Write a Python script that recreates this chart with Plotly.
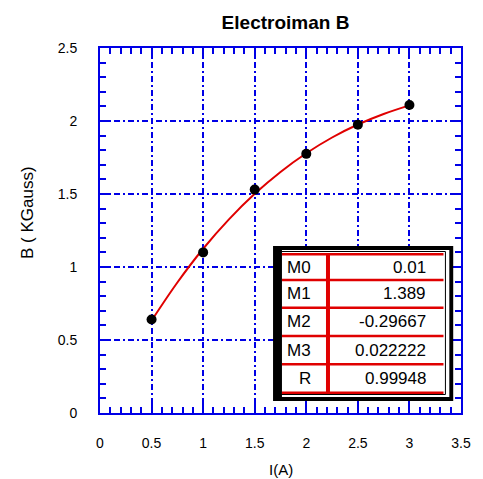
import plotly.graph_objects as go

# measured data
corriente = [0.5, 1.0, 1.5, 2.0, 2.5, 3.0]
campo_b = [0.64, 1.10, 1.53, 1.775, 1.975, 2.11]

# red fit curve
curva_x = [0.5, 0.75, 1.0, 1.25, 1.5, 1.75, 2.0, 2.25, 2.5, 2.75, 3.0]
curva_y = [0.633, 0.894, 1.125, 1.326, 1.501, 1.651, 1.779, 1.887, 1.976, 2.048, 2.107]

# fit results table
param_names = ["M0", "M1", "M2", "M3", "R"]
param_values = ["0.01", "1.389", "-0.29667", "0.022222", "0.99948"]

BLUE = "#0000e6"
RED = "#e00000"
FONT = "Liberation Sans, Arial, sans-serif"

# plot area in pixels (483x479 page)
L, R, T, B = 100, 471, 48, 413


def px(x, y):
    return (x - L) / (R - L), (B - y) / (B - T)


fig = go.Figure()
fig.add_trace(go.Scatter(x=curva_x, y=curva_y, mode="lines",
                         line=dict(color=RED, width=2, shape="spline"),
                         hoverinfo="skip"))
fig.add_trace(go.Scatter(x=corriente, y=campo_b, mode="markers",
                         marker=dict(color="black", size=10)))

axis = dict(showline=True, linecolor=BLUE, linewidth=2, mirror="ticks",
            ticks="inside", ticklen=10, tickwidth=2, tickcolor=BLUE,
            showgrid=True, gridcolor=BLUE, gridwidth=2,
            griddash="6px,3px,2px,3px", zeroline=False,
            tickfont=dict(family=FONT, size=14, color="black"),
            dtick=0.5, tick0=0,
            minor=dict(dtick=0.1, ticks="inside", ticklen=6, tickwidth=2,
                       tickcolor=BLUE, showgrid=False))

fig.update_xaxes(axis, range=[0, 3.5], ticklabelstandoff=16)
fig.update_yaxes(axis, range=[0, 2.5], ticklabelstandoff=18)

shapes = []
annotations = []


def rect(x0, y0, x1, y1, **kw):
    a0, b0 = px(x0, y0)
    a1, b1 = px(x1, y1)
    shapes.append(dict(type="rect", xref="paper", yref="paper",
                       x0=a0, y0=b0, x1=a1, y1=b1, **kw))


def line(x0, y0, x1, y1, color, width):
    a0, b0 = px(x0, y0)
    a1, b1 = px(x1, y1)
    shapes.append(dict(type="line", xref="paper", yref="paper",
                       x0=a0, y0=b0, x1=a1, y1=b1,
                       line=dict(color=color, width=width)))


# table frame
rect(278, 246, 463, 401, fillcolor="black", line=dict(width=0))
rect(282, 250, 459, 397, fillcolor="white", line=dict(width=0))
rect(283.5, 251.5, 455, 394.5, fillcolor="white", line=dict(color="black", width=1))
rect(278, 246, 287, 401, fillcolor="black", line=dict(width=0))

row_lines = [254.3, 280, 307.7, 336, 364.3, 392.7]
for yy in row_lines:
    line(287, yy, 453, yy, RED, 2.5)
line(334.3, 254, 334.3, 393, RED, 4)

for i, (n, v) in enumerate(zip(param_names, param_values)):
    yc = (row_lines[i] + row_lines[i + 1]) / 2
    a, b = px(319, yc)
    annotations.append(dict(x=a, y=b, xref="paper", yref="paper", text=n,
                            showarrow=False, xanchor="right", yanchor="middle",
                            font=dict(family=FONT, size=17, color="black")))
    a, b = px(437, yc)
    annotations.append(dict(x=a, y=b, xref="paper", yref="paper", text=v,
                            showarrow=False, xanchor="right", yanchor="middle",
                            font=dict(family=FONT, size=17, color="black")))

# axis titles
a, b = px(286, 469)
annotations.append(dict(x=a, y=b, xref="paper", yref="paper", text="I(A)",
                        showarrow=False, xanchor="center", yanchor="middle",
                        font=dict(family=FONT, size=15, color="black")))
a, b = px(25, 213)
annotations.append(dict(x=a, y=b, xref="paper", yref="paper", text="B ( KGauss)",
                        showarrow=False, xanchor="center", yanchor="middle",
                        textangle=-90,
                        font=dict(family=FONT, size=17, color="black")))

fig.update_layout(
    width=483, height=479,
    margin=dict(l=L, r=483 - R, t=T, b=479 - B),
    paper_bgcolor="white", plot_bgcolor="white",
    showlegend=False,
    title=dict(text="<b>Electroiman B</b>", x=(L + R) / 2 / 483, xanchor="center",
               y=1 - 22 / 479, yanchor="middle",
               font=dict(family=FONT, size=19, color="black")),
    shapes=shapes, annotations=annotations,
)

fig.write_html("out.html", config={"displayModeBar": False},
               post_script="document.body.style.margin='0';document.body.style.overflow='hidden';")
